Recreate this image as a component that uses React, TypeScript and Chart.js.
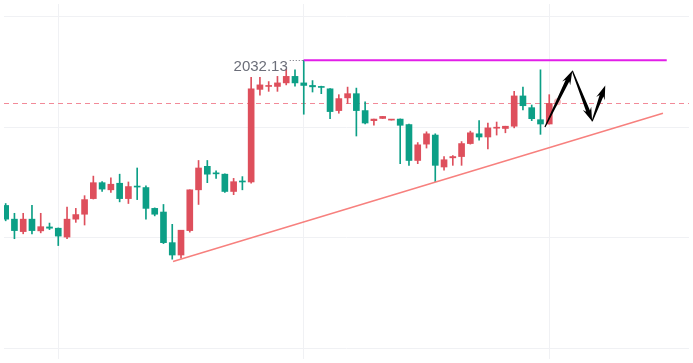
import React, { useEffect, useRef } from "react";
import { Chart, registerables } from "chart.js";

Chart.register(...registerables);

// ---- Candle data (price units) ----
const opens = [
  2005.84, 2003.36, 2001.11, 2003.36, 2001.24, 2001.95, 2001.72, 2000.12, 2003.36, 2004.25,
  2007.08, 2009.96, 2008.67, 2009.86, 2007.08, 2009.29, 2009.08, 2005.31, 2004.65, 1999.11,
  1996.87, 2001.29, 2008.67, 2012.92, 2011.68, 2011.5, 2008.37, 2010.19, 2010.09, 2026.85,
  2027.38, 2027.38, 2028.02, 2029.2, 2028.02, 2027.56, 2027.33, 2026.95, 2023.01, 2025.31,
  2026.07, 2023.01, 2021.19, 2021.59, 2021.29, 2021.47, 2020.48, 2013.98, 2016.94, 2018.58,
  2012.8, 2014.46, 2014.69, 2017.04, 2018.81, 2018.23, 2019.82, 2019.77, 2020.18, 2025.66,
  2023.54, 2021.36, 2020.58,
];
const highs = [
  2006.19, 2004.42, 2004.42, 2005.84, 2004.42, 2002.65, 2001.77, 2005.54, 2005.31, 2007.61,
  2011.15, 2010.14, 2010.85, 2011.5, 2010.09, 2012.62, 2009.38, 2005.4, 2006.02, 2002.42,
  2001.36, 2008.67, 2013.98, 2013.98, 2012.09, 2011.55, 2010.74, 2011.06, 2029.03, 2029.03,
  2028.26, 2029.2, 2030.49, 2030.39, 2032.13, 2028.44, 2027.43, 2027.0, 2025.89, 2027.26,
  2027.08, 2024.6, 2021.47, 2021.95, 2021.42, 2021.5, 2020.58, 2017.22, 2019.17, 2018.81,
  2014.69, 2014.87, 2017.4, 2019.29, 2021.19, 2020.76, 2020.94, 2020.18, 2026.49, 2027.26,
  2024.02, 2030.39, 2025.89,
];
const lows = [
  2003.06, 1999.82, 2000.71, 2000.71, 2000.88, 2001.47, 1998.58, 1999.82, 2002.78, 2002.3,
  2007.0, 2008.37, 2008.19, 2006.49, 2006.19, 2006.9, 2003.36, 2003.95, 1998.94, 1996.11,
  1996.28, 2001.01, 2006.02, 2009.96, 2010.74, 2008.19, 2007.79, 2008.67, 2009.86, 2025.79,
  2026.49, 2026.49, 2027.66, 2027.43, 2022.35, 2026.37, 2026.07, 2021.54, 2022.53, 2024.3,
  2018.41, 2020.58, 2020.35, 2021.59, 2021.29, 2013.4, 2013.1, 2013.4, 2016.23, 2010.14,
  2012.21, 2013.1, 2013.1, 2016.94, 2017.65, 2016.05, 2018.58, 2018.99, 2019.88, 2023.13,
  2021.19, 2018.71, 2020.58,
];
const closes = [
  2003.36, 2001.29, 2003.36, 2001.29, 2002.0, 2001.72, 2000.3, 2003.36, 2004.19, 2006.9,
  2009.96, 2008.8, 2009.68, 2007.08, 2009.26, 2009.17, 2005.31, 2004.25, 1999.11, 1996.87,
  2001.36, 2008.67, 2012.62, 2011.5, 2011.56, 2008.37, 2010.14, 2010.09, 2026.95, 2027.66,
  2027.56, 2028.02, 2029.2, 2028.02, 2027.56, 2027.31, 2027.2, 2022.83, 2025.18, 2026.07,
  2023.01, 2020.76, 2021.47, 2021.95, 2021.42, 2020.35, 2013.98, 2016.81, 2018.81, 2013.1,
  2014.11, 2014.69, 2017.04, 2018.99, 2018.23, 2019.88, 2019.93, 2020.18, 2025.66, 2023.89,
  2021.54, 2020.58, 2024.3,
];

// ---- Drawn annotations (index, price) ----
const resistanceX = [34, 75.4];
const resistancePrice = 2032.13;
const trendX = [19.09, 74.97];
const trendY = [1995.7, 2022.53];
const arrowFromX = [61.51, 64.63, 66.89];
const arrowFromY = [2020.05, 2030.21, 2021.06];
const arrowToX = [64.63, 66.89, 68.39];
const arrowToY = [2030.21, 2021.06, 2027.56];
const pulseX = [62.94];
const pulseY = [2024.6];

// grid tick values
const xGridTicks = [6, 34, 62];
const yGridTicks = [1980, 2000, 2020, 2040];

const UP = "#de4f5c";
const DOWN = "#0c9f86";
const LAST_LINE = "#f28a98";

export default function App() {
  const ref = useRef<HTMLCanvasElement | null>(null);

  useEffect(() => {
    document.body.style.margin = "0";
    const canvas = ref.current;
    if (!canvas) return;

    const colors = closes.map((c, i) => (c >= opens[i] ? UP : DOWN));
    const lastClose = closes[closes.length - 1];
    const highIdx = highs.indexOf(Math.max(...highs));

    const lastPriceLine = {
      id: "lastPriceLine",
      beforeDatasetsDraw(chart: any) {
        const { ctx, scales, chartArea } = chart;
        const y = Math.round(scales.y.getPixelForValue(lastClose)) + 0.5;
        ctx.save();
        ctx.strokeStyle = LAST_LINE;
        ctx.lineWidth = 1;
        ctx.setLineDash([5, 4]);
        ctx.beginPath();
        ctx.moveTo(chartArea.left, y);
        ctx.lineTo(chartArea.right, y);
        ctx.stroke();
        ctx.restore();
      },
    };

    const overlay = {
      id: "overlay",
      afterDatasetsDraw(chart: any) {
        const { ctx, scales } = chart;
        const xs = scales.x;
        const ys = scales.y;
        ctx.save();
        // high label
        const hx = xs.getPixelForValue(highIdx);
        const hy = ys.getPixelForValue(highs[highIdx]);
        ctx.fillStyle = "#6b6e79";
        ctx.font = "15px 'Liberation Sans', Arial, sans-serif";
        ctx.textAlign = "right";
        ctx.textBaseline = "alphabetic";
        ctx.fillText(highs[highIdx].toFixed(2), hx - 16, hy + 11);
        ctx.strokeStyle = "#6b6e79";
        ctx.lineWidth = 1;
        ctx.setLineDash([1, 2]);
        ctx.beginPath();
        ctx.moveTo(hx - 14, Math.round(hy) + 0.5);
        ctx.lineTo(hx, Math.round(hy) + 0.5);
        ctx.stroke();
        ctx.setLineDash([]);

        // arrows
        ctx.fillStyle = "#000";
        for (let i = 0; i < arrowFromX.length; i++) {
          const x0 = xs.getPixelForValue(arrowFromX[i]);
          const y0 = ys.getPixelForValue(arrowFromY[i]);
          const x1 = xs.getPixelForValue(arrowToX[i]);
          const y1 = ys.getPixelForValue(arrowToY[i]);
          const dx = x1 - x0, dy = y1 - y0;
          const len = Math.hypot(dx, dy);
          const ux = dx / len, uy = dy / len;
          const nx = -uy, ny = ux;
          const headLen = 14, headW = 9, w0 = 1.2, w1 = 4;
          const bx = x1 - ux * headLen, by = y1 - uy * headLen;
          const cx = x1 - ux * (headLen - 3), cy = y1 - uy * (headLen - 3);
          ctx.beginPath();
          ctx.moveTo(x0 + (nx * w0) / 2, y0 + (ny * w0) / 2);
          ctx.lineTo(cx + (nx * w1) / 2, cy + (ny * w1) / 2);
          ctx.lineTo(bx + (nx * headW) / 2, by + (ny * headW) / 2);
          ctx.lineTo(x1, y1);
          ctx.lineTo(bx - (nx * headW) / 2, by - (ny * headW) / 2);
          ctx.lineTo(cx - (nx * w1) / 2, cy - (ny * w1) / 2);
          ctx.lineTo(x0 - (nx * w0) / 2, y0 - (ny * w0) / 2);
          ctx.closePath();
          ctx.fill();
        }
        ctx.restore();
      },
    };

    const chart = new Chart(canvas, {
      type: "bar",
      data: {
        datasets: [
          {
            label: "wick",
            data: highs.map((h, i) => ({ x: i, y: [lows[i], h] })) as any,
            backgroundColor: colors,
            barThickness: 1,
            grouped: false,
            borderWidth: 0,
            order: 6,
          } as any,
          {
            label: "body",
            data: opens.map((o, i) => ({ x: i, y: [o, closes[i]] })) as any,
            backgroundColor: colors,
            barThickness: 6,
            minBarLength: 1,
            grouped: false,
            borderWidth: 0,
            order: 5,
          } as any,
          {
            type: "line",
            label: "pulse",
            data: pulseX.map((x, i) => ({ x, y: pulseY[i] })),
            showLine: false,
            pointRadius: 3.5,
            pointBackgroundColor: "rgba(240,90,100,0.45)",
            pointBorderColor: "rgba(240,90,100,0.45)",
            pointBorderWidth: 0,
            order: 3,
          } as any,
          {
            type: "line",
            label: "resistance",
            data: resistanceX.map((x) => ({ x, y: resistancePrice })),
            borderColor: "#e21ee8",
            borderWidth: 2,
            pointRadius: 0,
            order: 1,
          } as any,
          {
            type: "line",
            label: "trend",
            data: trendX.map((x, i) => ({ x, y: trendY[i] })),
            borderColor: "#f7807e",
            borderWidth: 1.5,
            pointRadius: 0,
            order: 1,
          } as any,
        ],
      },
      options: {
        animation: false,
        responsive: false,
        maintainAspectRatio: false,
        layout: { padding: 0 },
        plugins: { legend: { display: false }, tooltip: { enabled: false } },
        scales: {
          x: {
            type: "linear",
            offset: false,
            min: -0.19,
            max: 77.94,
            afterBuildTicks: (s: any) => {
              s.ticks = xGridTicks.map((v) => ({ value: v }));
            },
            ticks: { display: false },
            grid: { color: "#f0f1f4", drawTicks: false, offset: false },
            border: { display: false },
          },
          y: {
            type: "linear",
            min: 1978.05,
            max: 2042.3,
            afterBuildTicks: (s: any) => {
              s.ticks = yGridTicks.map((v) => ({ value: v }));
            },
            ticks: { display: false },
            grid: { color: "#f0f1f4", drawTicks: false },
            border: { display: false },
          },
        },
      },
      plugins: [lastPriceLine, overlay],
    });

    return () => chart.destroy();
  }, []);

  return (
    <div style={{ width: 693, height: 363, background: "#fff" }}>
      <canvas ref={ref} width={693} height={363} />
    </div>
  );
}
